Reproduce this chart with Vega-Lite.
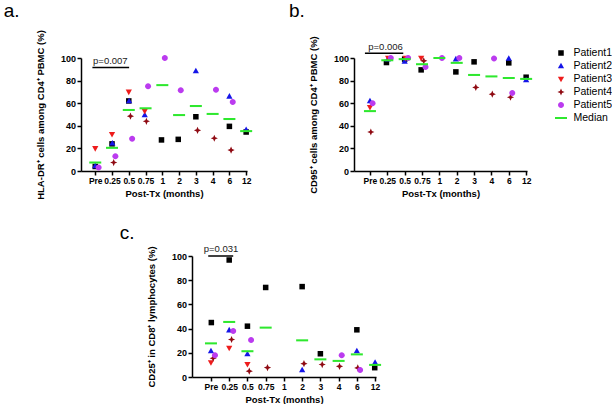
{
  "$schema": "https://vega.github.io/schema/vega-lite/v6.json",
  "padding": {"left": 3, "top": 1, "right": 0, "bottom": 0},
  "background": "white",
  "datasets": {
    "pts": [
      {"p": "a", "s": "Patient1", "x": 0, "y": 4},
      {"p": "a", "s": "Patient1", "x": 1, "y": 24},
      {"p": "a", "s": "Patient1", "x": 2, "y": 62},
      {"p": "a", "s": "Patient1", "x": 3.95, "y": 27.5},
      {"p": "a", "s": "Patient1", "x": 4.95, "y": 28},
      {"p": "a", "s": "Patient1", "x": 6, "y": 48},
      {"p": "a", "s": "Patient1", "x": 8, "y": 39.5},
      {"p": "a", "s": "Patient1", "x": 9, "y": 34.5},
      {"p": "a", "s": "Patient2", "x": 0, "y": 4.5},
      {"p": "a", "s": "Patient2", "x": 1.02, "y": 24.5},
      {"p": "a", "s": "Patient2", "x": 2.02, "y": 62},
      {"p": "a", "s": "Patient2", "x": 2.95, "y": 49.5},
      {"p": "a", "s": "Patient2", "x": 6, "y": 88.5},
      {"p": "a", "s": "Patient2", "x": 8, "y": 66},
      {"p": "a", "s": "Patient2", "x": 9, "y": 36.5},
      {"p": "a", "s": "Patient3", "x": 0, "y": 20},
      {"p": "a", "s": "Patient3", "x": 1, "y": 32.5},
      {"p": "a", "s": "Patient3", "x": 2, "y": 70},
      {"p": "a", "s": "Patient3", "x": 2.95, "y": 53},
      {"p": "a", "s": "Patient4", "x": 1.1, "y": 7.5},
      {"p": "a", "s": "Patient4", "x": 2.1, "y": 48.5},
      {"p": "a", "s": "Patient4", "x": 3.05, "y": 44},
      {"p": "a", "s": "Patient4", "x": 6.1, "y": 36},
      {"p": "a", "s": "Patient4", "x": 7.1, "y": 29},
      {"p": "a", "s": "Patient4", "x": 8.1, "y": 18.5},
      {"p": "a", "s": "Patient5", "x": 0.2, "y": 3},
      {"p": "a", "s": "Patient5", "x": 1.2, "y": 13},
      {"p": "a", "s": "Patient5", "x": 2.2, "y": 28.5},
      {"p": "a", "s": "Patient5", "x": 3.15, "y": 75},
      {"p": "a", "s": "Patient5", "x": 4.15, "y": 100},
      {"p": "a", "s": "Patient5", "x": 5.1, "y": 71.5},
      {"p": "a", "s": "Patient5", "x": 7.2, "y": 72},
      {"p": "a", "s": "Patient5", "x": 8.2, "y": 61},
      {"p": "a", "s": "Median", "x": 0, "y": 7.5},
      {"p": "a", "s": "Median", "x": 1, "y": 20.5},
      {"p": "a", "s": "Median", "x": 2, "y": 54},
      {"p": "a", "s": "Median", "x": 3, "y": 55.5},
      {"p": "a", "s": "Median", "x": 4, "y": 76},
      {"p": "a", "s": "Median", "x": 5, "y": 49.5},
      {"p": "a", "s": "Median", "x": 6, "y": 57.5},
      {"p": "a", "s": "Median", "x": 7, "y": 50.5},
      {"p": "a", "s": "Median", "x": 8, "y": 46},
      {"p": "a", "s": "Median", "x": 9, "y": 35.3},

      {"p": "b", "s": "Patient1", "x": 0.95, "y": 96},
      {"p": "b", "s": "Patient1", "x": 2, "y": 99},
      {"p": "b", "s": "Patient1", "x": 2.95, "y": 89.5},
      {"p": "b", "s": "Patient1", "x": 4.95, "y": 87.7},
      {"p": "b", "s": "Patient1", "x": 6, "y": 96.6},
      {"p": "b", "s": "Patient1", "x": 8, "y": 95.7},
      {"p": "b", "s": "Patient1", "x": 9, "y": 83},
      {"p": "b", "s": "Patient2", "x": 0, "y": 62},
      {"p": "b", "s": "Patient2", "x": 1.03, "y": 99},
      {"p": "b", "s": "Patient2", "x": 2, "y": 97},
      {"p": "b", "s": "Patient2", "x": 4.95, "y": 99},
      {"p": "b", "s": "Patient2", "x": 8, "y": 99.5},
      {"p": "b", "s": "Patient2", "x": 9, "y": 80.5},
      {"p": "b", "s": "Patient3", "x": 0, "y": 56.5},
      {"p": "b", "s": "Patient3", "x": 1.05, "y": 100},
      {"p": "b", "s": "Patient3", "x": 2.05, "y": 100},
      {"p": "b", "s": "Patient3", "x": 2.95, "y": 100},
      {"p": "b", "s": "Patient4", "x": 0.05, "y": 34.5},
      {"p": "b", "s": "Patient4", "x": 3.1, "y": 97.5},
      {"p": "b", "s": "Patient4", "x": 6.1, "y": 74},
      {"p": "b", "s": "Patient4", "x": 7.05, "y": 68},
      {"p": "b", "s": "Patient4", "x": 8.1, "y": 65.3},
      {"p": "b", "s": "Patient5", "x": 0.15, "y": 60},
      {"p": "b", "s": "Patient5", "x": 1.2, "y": 100},
      {"p": "b", "s": "Patient5", "x": 2.2, "y": 100},
      {"p": "b", "s": "Patient5", "x": 3.2, "y": 92},
      {"p": "b", "s": "Patient5", "x": 4.15, "y": 100},
      {"p": "b", "s": "Patient5", "x": 5.15, "y": 100},
      {"p": "b", "s": "Patient5", "x": 7.15, "y": 99.5},
      {"p": "b", "s": "Patient5", "x": 8.2, "y": 69},
      {"p": "b", "s": "Median", "x": 0, "y": 53},
      {"p": "b", "s": "Median", "x": 1, "y": 98},
      {"p": "b", "s": "Median", "x": 2, "y": 99},
      {"p": "b", "s": "Median", "x": 3, "y": 94.5},
      {"p": "b", "s": "Median", "x": 4, "y": 100},
      {"p": "b", "s": "Median", "x": 5, "y": 95.7},
      {"p": "b", "s": "Median", "x": 6, "y": 85},
      {"p": "b", "s": "Median", "x": 7, "y": 83.7},
      {"p": "b", "s": "Median", "x": 8, "y": 82.3},
      {"p": "b", "s": "Median", "x": 9, "y": 81.5},

      {"p": "c", "s": "Patient1", "x": 0.02, "y": 45},
      {"p": "c", "s": "Patient1", "x": 1, "y": 96.7},
      {"p": "c", "s": "Patient1", "x": 2, "y": 42},
      {"p": "c", "s": "Patient1", "x": 3, "y": 74},
      {"p": "c", "s": "Patient1", "x": 5, "y": 74.7},
      {"p": "c", "s": "Patient1", "x": 6, "y": 19.2},
      {"p": "c", "s": "Patient1", "x": 8, "y": 39},
      {"p": "c", "s": "Patient1", "x": 8.98, "y": 7.7},
      {"p": "c", "s": "Patient2", "x": 0, "y": 21.5},
      {"p": "c", "s": "Patient2", "x": 1, "y": 38.7},
      {"p": "c", "s": "Patient2", "x": 2, "y": 19},
      {"p": "c", "s": "Patient2", "x": 5, "y": 5.8},
      {"p": "c", "s": "Patient2", "x": 8, "y": 21.5},
      {"p": "c", "s": "Patient2", "x": 9, "y": 12},
      {"p": "c", "s": "Patient3", "x": 0, "y": 12},
      {"p": "c", "s": "Patient3", "x": 1, "y": 24},
      {"p": "c", "s": "Patient3", "x": 2, "y": 10.5},
      {"p": "c", "s": "Patient4", "x": 0.12, "y": 15.5},
      {"p": "c", "s": "Patient4", "x": 1.13, "y": 31},
      {"p": "c", "s": "Patient4", "x": 2.1, "y": 4.8},
      {"p": "c", "s": "Patient4", "x": 3.1, "y": 7.8},
      {"p": "c", "s": "Patient4", "x": 5.1, "y": 11},
      {"p": "c", "s": "Patient4", "x": 6.1, "y": 10.3},
      {"p": "c", "s": "Patient4", "x": 7.05, "y": 8.8},
      {"p": "c", "s": "Patient4", "x": 8.05, "y": 7.5},
      {"p": "c", "s": "Patient5", "x": 0.22, "y": 18},
      {"p": "c", "s": "Patient5", "x": 1.22, "y": 38},
      {"p": "c", "s": "Patient5", "x": 2.2, "y": 30.5},
      {"p": "c", "s": "Patient5", "x": 7.17, "y": 18},
      {"p": "c", "s": "Patient5", "x": 8.18, "y": 5.8},
      {"p": "c", "s": "Median", "x": 0, "y": 27.8},
      {"p": "c", "s": "Median", "x": 1, "y": 45.5},
      {"p": "c", "s": "Median", "x": 2, "y": 21.3},
      {"p": "c", "s": "Median", "x": 3, "y": 40.8},
      {"p": "c", "s": "Median", "x": 5, "y": 30.3},
      {"p": "c", "s": "Median", "x": 6, "y": 14.6},
      {"p": "c", "s": "Median", "x": 7, "y": 13.3},
      {"p": "c", "s": "Median", "x": 8, "y": 18.7},
      {"p": "c", "s": "Median", "x": 9, "y": 10}
    ],
    "ann": [
      {"p": "a", "k": "line", "x": -0.17, "x2": 2.02, "y": 91.6},
      {"p": "a", "k": "text", "x": 0.9, "y": 97, "label": "p=0.007"},
      {"p": "a", "k": "panel", "x": -5.46, "y": 136.7, "label": "a."},
      {"p": "b", "k": "line", "x": -0.29, "x2": 1.92, "y": 104.3},
      {"p": "b", "k": "text", "x": 0.9, "y": 110, "label": "p=0.006"},
      {"p": "b", "k": "panel", "x": -4.67, "y": 136.7, "label": "b."},
      {"p": "c", "k": "line", "x": -0.15, "x2": 1.22, "y": 100},
      {"p": "c", "k": "text", "x": 0.55, "y": 106, "label": "p=0.031"},
      {"p": "c", "k": "panel", "x": -5.0, "y": 114, "label": "c."}
    ]
  },
  "vconcat": [
    {
      "hconcat": [
        {
          "width": 166, "height": 113,
          "encoding": {
            "x": {"field": "x", "type": "quantitative", "scale": {"domain": [-0.85, 9.05], "nice": false, "zero": false},
                  "axis": {"values": [0,1,2,3,4,5,6,7,8,9], "labelExpr": "['Pre','0.25','0.5','0.75','1','2','3','4','6','12'][datum.value]", "title": "Post-Tx (months)"}},
            "y": {"field": "y", "type": "quantitative", "scale": {"domain": [0, 100], "nice": false, "zero": true},
                  "axis": {"values": [0,20,40,60,80,100], "title": "HLA-DR⁺ cells among CD4⁺ PBMC (%)"}}
          },
          "layer": [
            {"data": {"name": "pts"}, "transform": [{"filter": "datum.p == 'a'"}],
             "mark": {"type": "point", "filled": true, "size": 144, "opacity": 1},
             "encoding": {
               "shape": {"field": "s", "type": "nominal", "sort": null, "scale": {"domain": ["Patient1","Patient2","Patient3","Patient4","Patient5","Median"], "range": ["M-0.46,-0.46H0.46V0.46H-0.46Z","M0,-0.55L0.52,0.38H-0.52Z","M0,0.55L0.52,-0.38H-0.52Z","M0,-0.6L0.18,-0.18L0.6,0L0.18,0.18L0,0.6L-0.18,0.18L-0.6,0L-0.18,-0.18Z","M0.5,0A0.5,0.5,0,1,1,-0.5,0A0.5,0.5,0,1,1,0.5,0Z","M-1,-0.17H1V0.17H-1Z"]}, "legend": null},
               "color": {"field": "s", "type": "nominal", "sort": null, "scale": {"domain": ["Patient1","Patient2","Patient3","Patient4","Patient5","Median"], "range": ["#000000","#1515e8","#ee1c1c","#8f0a12","#bb3bef","#2ee82e"]}, "legend": null}
             }},
            {"data": {"name": "ann"}, "transform": [{"filter": "datum.p == 'a' && datum.k == 'line'"}],
             "mark": {"type": "rule", "strokeWidth": 1.5, "color": "#000000"},
             "encoding": {"x2": {"field": "x2"}}},
            {"data": {"name": "ann"}, "transform": [{"filter": "datum.p == 'a' && datum.k == 'text'"}],
             "mark": {"type": "text", "font": "Liberation Sans", "fontSize": 9.5, "color": "#222222", "baseline": "middle", "align": "center"},
             "encoding": {"text": {"field": "label"}}},
            {"data": {"name": "ann"}, "transform": [{"filter": "datum.p == 'a' && datum.k == 'panel'"}],
             "mark": {"type": "text", "font": "Liberation Sans", "fontSize": 19, "color": "#000000", "baseline": "alphabetic", "align": "left"},
             "encoding": {"text": {"field": "label"}}}
          ]
        },
        {
          "width": 173, "height": 113,
          "encoding": {
            "x": {"field": "x", "type": "quantitative", "scale": {"domain": [-0.92, 9.05], "nice": false, "zero": false},
                  "axis": {"values": [0,1,2,3,4,5,6,7,8,9], "labelExpr": "['Pre','0.25','0.5','0.75','1','2','3','4','6','12'][datum.value]", "title": "Post-Tx (months)"}},
            "y": {"field": "y", "type": "quantitative", "scale": {"domain": [0, 100], "nice": false, "zero": true},
                  "axis": {"values": [0,20,40,60,80,100], "title": "CD95⁺ cells among CD4⁺ PBMC (%)"}}
          },
          "layer": [
            {"data": {"name": "pts"}, "transform": [{"filter": "datum.p == 'b'"}],
             "mark": {"type": "point", "filled": true, "size": 144, "opacity": 1},
             "encoding": {
               "shape": {"field": "s", "type": "nominal", "sort": null, "scale": {"domain": ["Patient1","Patient2","Patient3","Patient4","Patient5","Median"], "range": ["M-0.46,-0.46H0.46V0.46H-0.46Z","M0,-0.55L0.52,0.38H-0.52Z","M0,0.55L0.52,-0.38H-0.52Z","M0,-0.6L0.18,-0.18L0.6,0L0.18,0.18L0,0.6L-0.18,0.18L-0.6,0L-0.18,-0.18Z","M0.5,0A0.5,0.5,0,1,1,-0.5,0A0.5,0.5,0,1,1,0.5,0Z","M-1,-0.17H1V0.17H-1Z"]},
                         "legend": {"title": null, "orient": "none", "legendX": 201, "legendY": -11, "labelFont": "Liberation Sans", "labelFontSize": 10.5, "labelColor": "#000000", "symbolSize": 144, "symbolStrokeWidth": 0, "rowPadding": 1, "labelOffset": 6.5, "padding": 0}},
               "color": {"field": "s", "type": "nominal", "sort": null, "scale": {"domain": ["Patient1","Patient2","Patient3","Patient4","Patient5","Median"], "range": ["#000000","#1515e8","#ee1c1c","#8f0a12","#bb3bef","#2ee82e"]},
                         "legend": {"title": null, "orient": "none", "legendX": 201, "legendY": -11, "labelFont": "Liberation Sans", "labelFontSize": 10.5, "labelColor": "#000000", "symbolSize": 144, "symbolStrokeWidth": 0, "rowPadding": 1, "labelOffset": 6.5, "padding": 0}}
             }},
            {"data": {"name": "ann"}, "transform": [{"filter": "datum.p == 'b' && datum.k == 'line'"}],
             "mark": {"type": "rule", "strokeWidth": 1.5, "color": "#000000"},
             "encoding": {"x2": {"field": "x2"}}},
            {"data": {"name": "ann"}, "transform": [{"filter": "datum.p == 'b' && datum.k == 'text'"}],
             "mark": {"type": "text", "font": "Liberation Sans", "fontSize": 9.5, "color": "#222222", "baseline": "middle", "align": "center"},
             "encoding": {"text": {"field": "label"}}},
            {"data": {"name": "ann"}, "transform": [{"filter": "datum.p == 'b' && datum.k == 'panel'"}],
             "mark": {"type": "text", "font": "Liberation Sans", "fontSize": 19, "color": "#000000", "baseline": "alphabetic", "align": "left"},
             "encoding": {"text": {"field": "label"}}}
          ]
        }
      ],
      "spacing": 35,
      "resolve": {"scale": {"color": "independent", "shape": "independent"}}
    },
    {
      "hconcat": [
        {
          "width": 23, "height": 20,
          "view": {"fill": "#ffffff", "stroke": null},
          "data": {"values": [{"a": 0}]},
          "mark": {"type": "text"},
          "encoding": {"text": {"value": ""}}
        },
        {
          "width": 184, "height": 121,
          "encoding": {
            "x": {"field": "x", "type": "quantitative", "scale": {"domain": [-1.04, 9.05], "nice": false, "zero": false},
                  "axis": {"values": [0,1,2,3,4,5,6,7,8,9], "labelExpr": "['Pre','0.25','0.5','0.75','1','2','3','4','6','12'][datum.value]", "title": "Post-Tx (months)"}},
            "y": {"field": "y", "type": "quantitative", "scale": {"domain": [0, 100], "nice": false, "zero": true},
                  "axis": {"values": [0,20,40,60,80,100], "title": "CD25⁺ in CD8⁺ lymphocytes (%)"}}
          },
          "layer": [
            {"data": {"name": "pts"}, "transform": [{"filter": "datum.p == 'c'"}],
             "mark": {"type": "point", "filled": true, "size": 144, "opacity": 1},
             "encoding": {
               "shape": {"field": "s", "type": "nominal", "sort": null, "scale": {"domain": ["Patient1","Patient2","Patient3","Patient4","Patient5","Median"], "range": ["M-0.46,-0.46H0.46V0.46H-0.46Z","M0,-0.55L0.52,0.38H-0.52Z","M0,0.55L0.52,-0.38H-0.52Z","M0,-0.6L0.18,-0.18L0.6,0L0.18,0.18L0,0.6L-0.18,0.18L-0.6,0L-0.18,-0.18Z","M0.5,0A0.5,0.5,0,1,1,-0.5,0A0.5,0.5,0,1,1,0.5,0Z","M-1,-0.17H1V0.17H-1Z"]}, "legend": null},
               "color": {"field": "s", "type": "nominal", "sort": null, "scale": {"domain": ["Patient1","Patient2","Patient3","Patient4","Patient5","Median"], "range": ["#000000","#1515e8","#ee1c1c","#8f0a12","#bb3bef","#2ee82e"]}, "legend": null}
             }},
            {"data": {"name": "ann"}, "transform": [{"filter": "datum.p == 'c' && datum.k == 'line'"}],
             "mark": {"type": "rule", "strokeWidth": 1.5, "color": "#000000"},
             "encoding": {"x2": {"field": "x2"}}},
            {"data": {"name": "ann"}, "transform": [{"filter": "datum.p == 'c' && datum.k == 'text'"}],
             "mark": {"type": "text", "font": "Liberation Sans", "fontSize": 9.5, "color": "#222222", "baseline": "middle", "align": "center"},
             "encoding": {"text": {"field": "label"}}},
            {"data": {"name": "ann"}, "transform": [{"filter": "datum.p == 'c' && datum.k == 'panel'"}],
             "mark": {"type": "text", "font": "Liberation Sans", "fontSize": 19, "color": "#000000", "baseline": "alphabetic", "align": "left"},
             "encoding": {"text": {"field": "label"}}}
          ]
        }
      ],
      "spacing": 15,
      "resolve": {"scale": {"color": "independent", "shape": "independent"}}
    }
  ],
  "spacing": 24,
  "resolve": {"scale": {"color": "independent", "shape": "independent"}},
  "config": {
    "view": {"stroke": null},
    "axis": {
      "grid": false, "domainColor": "#000000", "domainWidth": 1.5, "tickColor": "#000000", "tickWidth": 1.5, "tickSize": 4,
      "labelFont": "Liberation Sans", "labelFontWeight": "bold", "labelFontSize": 9, "labelColor": "#000000", "labelPadding": 1.5,
      "labelFlush": false, "labelOverlap": false,
      "titleFont": "Liberation Sans", "titleFontWeight": "bold", "titleFontSize": 9.5, "titleColor": "#000000"
    },
    "axisX": {"titlePadding": 3, "labelAngle": 0, "labelFontSize": 8.5},
    "axisY": {"titlePadding": 15}
  }
}
